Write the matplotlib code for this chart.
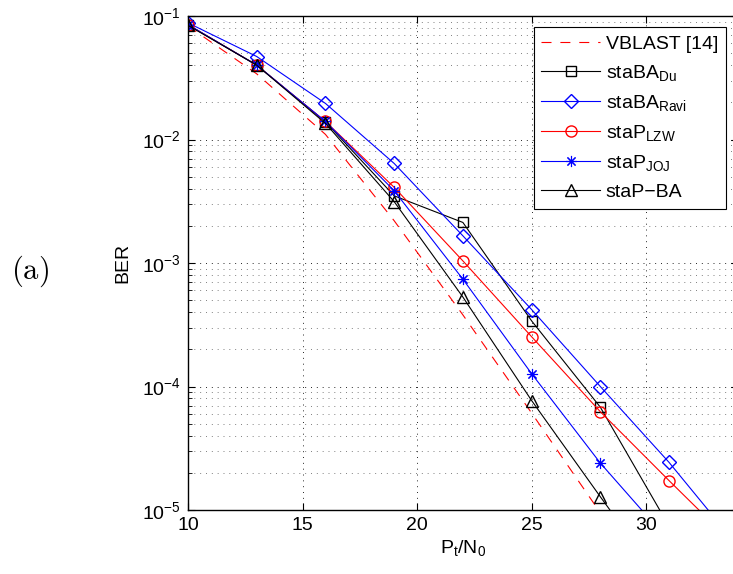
import numpy as np
import matplotlib.pyplot as plt
from matplotlib.ticker import LogLocator, FixedLocator

# SNR axis (P_t/N_0) and BER values
snr = [10, 13, 16, 19, 22, 25, 28, 31, 34]
vblast = [0.083, 0.034, 0.011, 2.2e-3, 3.8e-4, 6.1e-5, 9.5e-6]
staba_du = [0.085, 0.040, 0.0139, 3.5e-3, 2.13e-3, 3.4e-4, 6.8e-5, 7.4e-6]
staba_ravi = [0.088, 0.047, 0.0196, 6.4e-3, 1.66e-3, 4.2e-4, 1.0e-4, 2.43e-5, 5.1e-6]
stap_lzw = [0.085, 0.040, 0.0140, 4.1e-3, 1.04e-3, 2.53e-4, 6.25e-5, 1.73e-5, 4.9e-6]
stap_joj = [0.085, 0.040, 0.0140, 3.85e-3, 7.4e-4, 1.27e-4, 2.4e-5, 5.6e-6]
stap_ba = [0.084, 0.040, 0.0135, 3.14e-3, 5.3e-4, 7.7e-5, 1.28e-5, 2.2e-6]

labels = ['VBLAST [14]', r'staBA$_{\mathrm{Du}}$', r'staBA$_{\mathrm{Ravi}}$',
          r'staP$_{\mathrm{LZW}}$', r'staP$_{\mathrm{JOJ}}$', 'staP\u2212BA']
xticks = [10, 15, 20, 25, 30]

plt.rcParams['font.family'] = 'Liberation Sans'
plt.rcParams['font.size'] = 14
plt.rcParams['mathtext.fontset'] = 'custom'
plt.rcParams['mathtext.rm'] = 'Liberation Sans'
plt.rcParams['mathtext.it'] = 'Liberation Sans:italic'

fig = plt.figure(figsize=(7.33, 5.74), dpi=100, facecolor='white')
ax = fig.add_axes([0.2565, 0.1115, 0.75, 0.8606])

lw = 0.8
ax.semilogy(snr[:len(vblast)], vblast, color='#ff0000', ls=(0, (9, 8)), lw=lw, label=labels[0])
ax.semilogy(snr[:len(staba_du)], staba_du, color='k', marker='s', ms=6.5, mfc='none', lw=lw, label=labels[1])
ax.semilogy(snr[:len(staba_ravi)], staba_ravi, color='#0000ff', marker='D', ms=7, mfc='none', lw=lw, label=labels[2])
ax.semilogy(snr[:len(stap_lzw)], stap_lzw, color='#ff0000', marker='o', ms=8, mfc='none', lw=lw, label=labels[3])
ax.semilogy(snr[:len(stap_joj)], stap_joj, color='#0000ff', marker=(8, 2, 0), ms=8, mew=0.8, lw=lw, label=labels[4])
ax.semilogy(snr[:len(stap_ba)], stap_ba, color='k', marker='^', ms=8, mfc='none', lw=lw, label=labels[5])

ax.set_xlim(10, 34)
ax.set_ylim(1e-5, 1e-1)
ax.xaxis.set_major_locator(FixedLocator(xticks))
ax.yaxis.set_major_locator(LogLocator(base=10, numticks=10))
ax.yaxis.set_minor_locator(LogLocator(base=10, subs=np.arange(2, 10), numticks=10))

ax.tick_params(which='both', direction='in', top=True, right=True)
ax.tick_params(which='major', length=5, width=0.8, pad=5)
ax.tick_params(which='minor', length=3, width=0.6)
ax.tick_params(axis='x', which='minor', length=0)

ax.grid(True, which='major', axis='both', color='0.15', ls=(0, (1, 5)), lw=0.7)
ax.grid(True, which='minor', axis='y', color='0.5', ls=(0, (1, 5)), lw=0.7)

for s in ax.spines.values():
    s.set_linewidth(1.0)

ax.set_xlabel(r'P$_{\mathrm{t}}$/N$_{\mathrm{0}}$', labelpad=3)
ax.set_ylabel('BER', labelpad=8)

leg = ax.legend(loc='upper right', bbox_to_anchor=(0.978, 0.977), numpoints=1,
                handlelength=3.0, handletextpad=0.3, labelspacing=0.52,
                borderpad=0.4, borderaxespad=0.0, fancybox=False, framealpha=1,
                edgecolor='k')
leg.get_frame().set_linewidth(0.8)

fig.text(0.041, 0.528, r'$\mathrm{(a)}$', fontsize=22, math_fontfamily='cm',
         ha='center', va='center')

fig.savefig('out.png', dpi=100)
